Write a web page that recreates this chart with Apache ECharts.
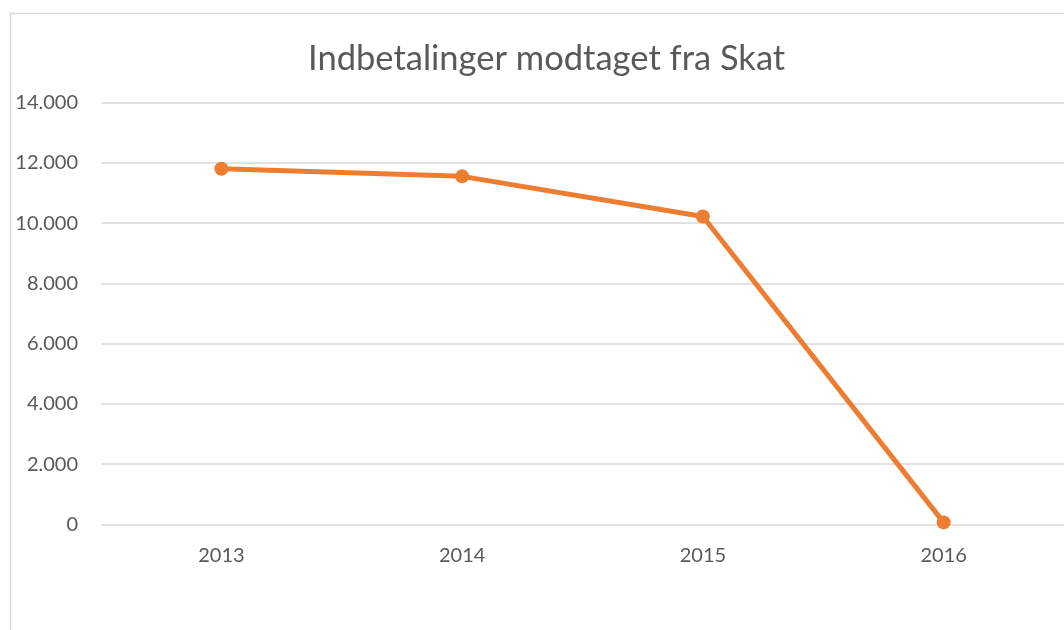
<!DOCTYPE html>
<html><head><meta charset="utf-8">
<script src="https://cdn.jsdelivr.net/npm/echarts@6/dist/echarts.min.js"></script>
<style>html,body{margin:0;padding:0;background:#fff}#c{width:1064px;height:630px}</style>
</head><body><div id="c"></div>
<script>
const categories = ['2013', '2014', '2015', '2016'];
const values = [11800, 11550, 10220, 70];
const titleText = 'Indbetalinger modtaget fra Skat';

const chart = echarts.init(document.getElementById('c'), null, {renderer: 'canvas'});
chart.setOption({
  animation: false,
  backgroundColor: '#fff',
  graphic: [{
    type: 'rect', left: 8, top: 11, silent: true, z: -1,
    shape: {x: 0, y: 0, width: 1200, height: 800},
    style: {fill: 'none', stroke: '#d9d9d9', lineWidth: 1.5}
  }],
  title: {
    text: titleText, left: 303, top: 36,
    textStyle: {fontFamily: 'Lato', fontSize: 34.5, fontWeight: 'normal', color: '#595959'}
  },
  grid: {left: 101, right: 0, top: 102.5, bottom: 105.5, containLabel: false},
  xAxis: {
    type: 'category', data: categories, boundaryGap: true,
    axisLine: {show: false}, axisTick: {show: false},
    axisLabel: {fontFamily: 'Lato', fontSize: 20, color: '#595959', margin: 21}
  },
  yAxis: {
    type: 'value', min: 0, max: 14000, interval: 2000,
    axisLine: {show: false}, axisTick: {show: false},
    splitLine: {lineStyle: {color: '#d9d9d9', width: 1.5}},
    axisLabel: {
      fontFamily: 'Lato', fontSize: 20, color: '#595959', margin: 23,
      formatter: v => v === 0 ? '0' : (v / 1000).toFixed(3)
    }
  },
  series: [{
    type: 'line', data: values,
    lineStyle: {color: '#ED7D31', width: 5},
    itemStyle: {color: '#ED7D31'},
    symbol: 'circle', symbolSize: 14, showSymbol: true
  }]
});
</script></body></html>
